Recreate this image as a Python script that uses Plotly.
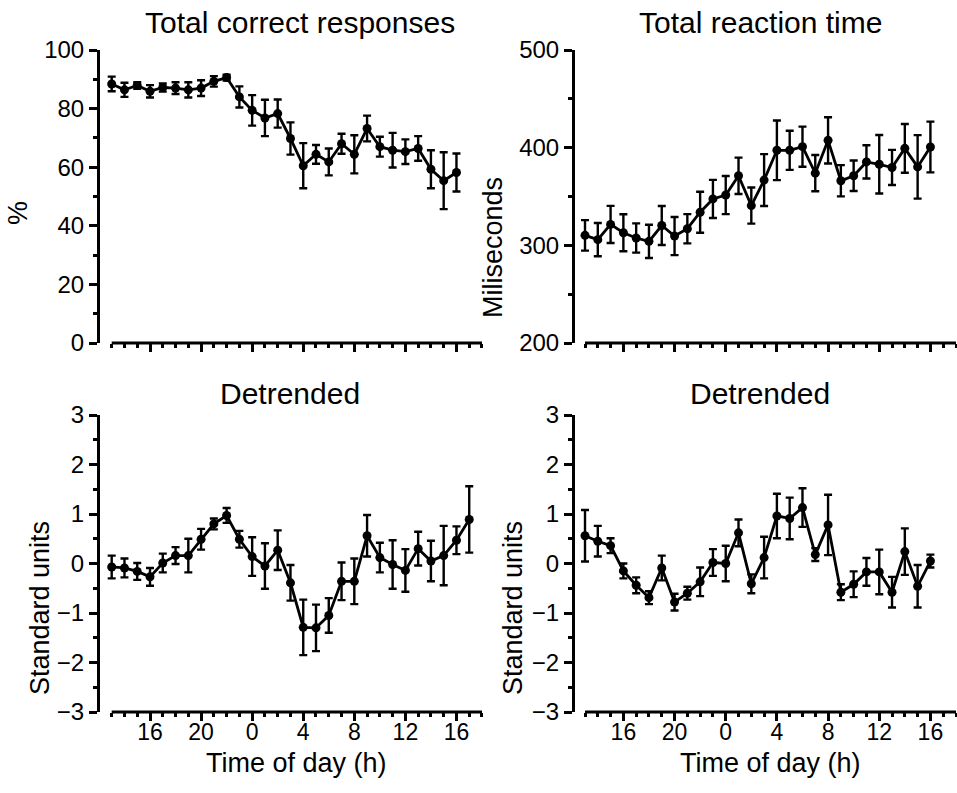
import plotly.graph_objects as go

# ---- data -------------------------------------------------------------
# clock hour on a continuous scale (24 = midnight, 40 = 16 h next day)
hours_28 = list(range(13, 41))
hours_29 = list(range(13, 42))

correct_pct = [88.4, 86.4, 87.9, 85.9, 87.2, 87.0, 86.4, 87.0, 89.3, 90.6,
               84.0, 79.4, 76.8, 78.3, 69.8, 60.5, 64.4, 61.8, 68.0, 64.4,
               73.2, 67.0, 65.8, 65.3, 66.4, 59.3, 55.4, 58.2]
correct_err = [2.5, 2.4, 1.1, 2.1, 1.4, 2.0, 2.6, 2.7, 1.8, 1.0,
               3.6, 5.2, 6.2, 4.8, 5.5, 7.7, 3.2, 4.6, 3.4, 6.5,
               4.4, 3.4, 5.9, 4.2, 4.2, 6.5, 9.7, 6.5]

rt_ms = [310.2, 305.8, 321.4, 312.9, 307.5, 304.1, 320.3, 309.5, 317.0, 333.9,
         347.5, 351.5, 371.2, 340.7, 366.8, 397.3, 397.3, 401.0, 373.9, 407.5,
         366.1, 371.2, 385.4, 383.0, 379.7, 399.3, 380.3, 400.7]
rt_err = [15.6, 17.0, 19.0, 19.0, 15.0, 17.0, 20.0, 19.5, 15.0, 21.0,
          19.5, 19.5, 18.6, 18.5, 26.6, 30.5, 20.0, 20.5, 18.6, 23.7,
          16.0, 15.6, 17.0, 30.0, 18.0, 25.0, 32.5, 26.0]

detr_correct = [-0.07, -0.09, -0.16, -0.27, 0.01, 0.16, 0.16, 0.49, 0.80, 0.97,
                0.49, 0.14, -0.05, 0.27, -0.39, -1.29, -1.30, -1.05, -0.36, -0.36,
                0.56, 0.12, -0.02, -0.14, 0.30, 0.05, 0.16, 0.47, 0.89]
detr_correct_err = [0.23, 0.19, 0.17, 0.18, 0.19, 0.17, 0.34, 0.21, 0.11, 0.15,
                    0.17, 0.39, 0.46, 0.40, 0.36, 0.56, 0.47, 0.35, 0.38, 0.46,
                    0.42, 0.30, 0.49, 0.43, 0.34, 0.41, 0.60, 0.28, 0.67]

detr_rt = [0.56, 0.45, 0.36, -0.15, -0.44, -0.69, -0.09, -0.78, -0.60, -0.37,
           0.02, 0.00, 0.62, -0.41, 0.12, 0.96, 0.91, 1.13, 0.18, 0.78,
           -0.58, -0.42, -0.17, -0.17, -0.58, 0.24, -0.46, 0.05]
detr_rt_err = [0.52, 0.31, 0.15, 0.15, 0.16, 0.13, 0.25, 0.17, 0.13, 0.29,
               0.27, 0.36, 0.27, 0.19, 0.42, 0.45, 0.42, 0.39, 0.13, 0.61,
               0.16, 0.26, 0.28, 0.45, 0.31, 0.47, 0.43, 0.13]

tick_hours = [16, 20, 24, 28, 32, 36, 40]
tick_labels = ["16", "20", "0", "4", "8", "12", "16"]

panel_titles = ["Total correct responses", "Total reaction time", "Detrended", "Detrended"]
y_titles = ["%", "Miliseconds", "Standard units", "Standard units"]

# ---- layout helpers (pixel positions on a 957 x 793 page) -------------
W, H = 957, 793
FONT = "Liberation Sans, Arial, sans-serif"
X_START, X_END = 13, 42      # drawn extent of the time axis
X_PAD = 0.6                  # room left of the first hour so its error bar is not cut


def px(x):
    return x / W


def py(y):
    return 1 - y / H


fig = go.Figure()

panels = [
    # (x, y, err, pixel x of hour 13 / hour 42, pixel y top / bottom, y-axis pixel x,
    #  y range, major step, minor step, show x labels)
    (hours_28, correct_pct, correct_err, (111.7, 482), (50, 343), 98, [0, 100], 20, 10, False),
    (hours_28, rt_ms, rt_err, (585, 956), (50, 343), 573, [200, 500], 100, 50, False),
    (hours_29, detr_correct, detr_correct_err, (111.7, 482), (415, 712), 98, [-3, 3], 1, 0.5, True),
    (hours_28, detr_rt, detr_rt_err, (585, 956), (415, 712), 573, [-3, 3], 1, 0.5, True),
]

shapes = []
for i, (xs, ys, es, xspan, yspan, yax_x, yr, ydt, ymin, showx) in enumerate(panels, start=1):
    xa = f"x{i}" if i > 1 else "x"
    ya = f"y{i}" if i > 1 else "y"
    pph = (xspan[1] - xspan[0]) / (X_END - X_START)
    x_left_px = xspan[0] - X_PAD * pph

    fig.add_trace(go.Scatter(
        x=xs, y=ys, xaxis=xa, yaxis=ya, mode="lines+markers",
        line=dict(color="black", width=2.8),
        marker=dict(color="black", size=9, symbol="circle"),
        error_y=dict(type="data", array=es, visible=True, color="black",
                     thickness=2.4, width=4),
        showlegend=False, cliponaxis=False,
    ))
    key = "" if i == 1 else str(i)
    fig.layout["xaxis" + key] = dict(
        domain=[px(x_left_px), px(xspan[1])], range=[X_START - X_PAD, X_END], anchor=ya,
        showline=False, showgrid=False, zeroline=False, automargin=False,
        tickmode="array", tickvals=tick_hours, ticktext=tick_labels,
        ticks="outside", ticklen=8, tickwidth=3, tickcolor="black",
        showticklabels=showx, ticklabelstandoff=-9,
        tickfont=dict(family=FONT, size=23, color="black"),
        minor=dict(dtick=1, tick0=X_START, ticks="outside", ticklen=4,
                   tickwidth=2.5, tickcolor="black", showgrid=False),
    )
    fig.layout["yaxis" + key] = dict(
        domain=[py(yspan[1]), py(yspan[0])], range=yr, anchor="free",
        position=px(yax_x), automargin=False,
        showline=True, linecolor="black", linewidth=3,
        showgrid=False, zeroline=False,
        tick0=yr[0], dtick=ydt,
        ticks="outside", ticklen=8, tickwidth=3, tickcolor="black",
        tickfont=dict(family=FONT, size=24, color="black"),
        minor=dict(dtick=ymin, ticks="outside", ticklen=4,
                   tickwidth=2.5, tickcolor="black", showgrid=False),
    )
    # time axis line, starting at the first hour (offset from the value axis)
    shapes.append(dict(type="line", xref=xa, yref=f"{ya} domain",
                       x0=X_START, x1=X_END, y0=0, y1=0,
                       line=dict(color="black", width=3)))

annotations = []
# panel titles
for (title, cx, cy) in zip(panel_titles, [300, 760, 290, 760], [22, 22, 393, 393]):
    annotations.append(dict(text=title, x=px(cx), y=py(cy), xref="paper", yref="paper",
                            showarrow=False, xanchor="center", yanchor="middle",
                            font=dict(family=FONT, size=30, color="black")))
# y-axis titles
for (title, cx, cy) in zip(y_titles, [18, 493, 40, 513], [213, 248, 608, 608]):
    annotations.append(dict(text=title, x=px(cx), y=py(cy), xref="paper", yref="paper",
                            showarrow=False, xanchor="center", yanchor="middle",
                            textangle=-90,
                            font=dict(family=FONT, size=27, color="black")))
# x-axis titles
for cx in [296, 770]:
    annotations.append(dict(text="Time of day (h)", x=px(cx), y=py(763), xref="paper", yref="paper",
                            showarrow=False, xanchor="center", yanchor="middle",
                            font=dict(family=FONT, size=27, color="black")))

fig.update_layout(
    width=W, height=H,
    margin=dict(l=0, r=0, t=0, b=0, pad=0, autoexpand=False),
    paper_bgcolor="white", plot_bgcolor="white",
    annotations=annotations, shapes=shapes,
    font=dict(family=FONT, color="black"),
)

fig.write_html("out.html")
